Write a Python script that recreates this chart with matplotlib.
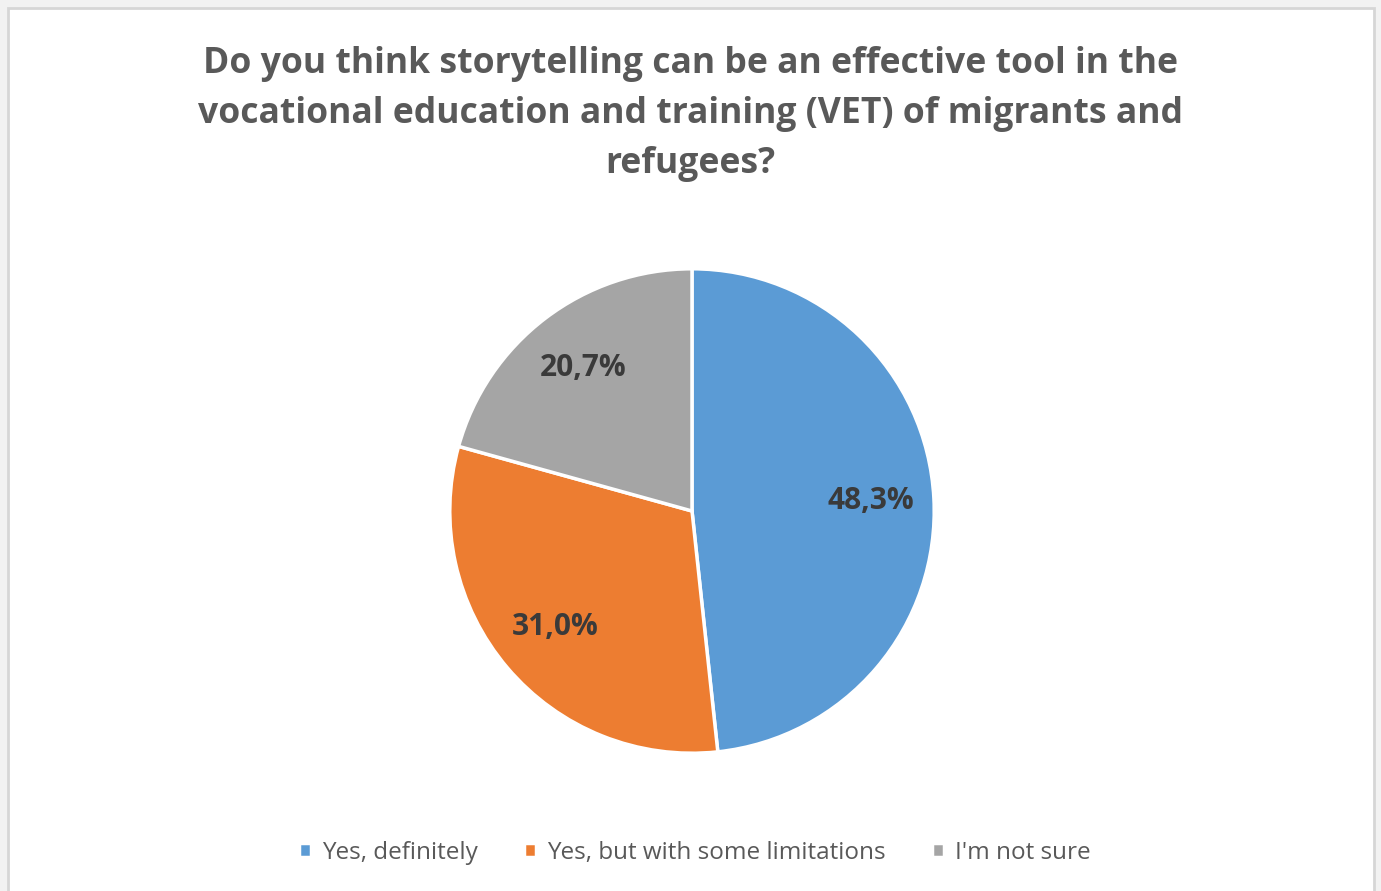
import matplotlib.pyplot as plt
from matplotlib.patches import Rectangle

categories = ['Yes, definitely', 'Yes, but with some limitations', "I'm not sure"]
shares = [48.3, 31.0, 20.7]
colors = ['#5b9bd5', '#ed7d31', '#a5a5a5']

title = ('Do you think storytelling can be an effective tool in the\n'
         'vocational education and training (VET) of migrants and\n'
         'refugees?')

fig = plt.figure(figsize=(13.81, 8.91), dpi=100, facecolor='#f2f2f2')

# white chart area with thin grey frame
fig.patches.append(Rectangle((8 / 1381, -0.05), 1366 / 1381, 1.05 - 8 / 891,
                             transform=fig.transFigure, facecolor='white',
                             edgecolor='#d6d6d6', linewidth=2, zorder=-5))

fig.text(0.5, 1 - 114 / 891, title, ha='center', va='center',
         fontsize=25.6, fontweight='bold', color='#595959',
         family='Open Sans', linespacing=1.5)

ax = fig.add_axes([451 / 1381, (891 - 752) / 891, 482 / 1381, 482 / 891])
ax.set_zorder(2)
wedges, texts, autotexts = ax.pie(
    shares, colors=colors, startangle=90, counterclock=False,
    autopct=lambda p: f'{p:.1f}%'.replace('.', ','), pctdistance=0.74,
    wedgeprops=dict(edgecolor='white', linewidth=2.5),
    textprops=dict(fontsize=21.5, fontweight='bold', color='#3a3a3a',
                   family='Open Sans'))
ax.set_xlim(-0.995, 0.995)
ax.set_ylim(-0.995, 0.995)
ax.set_aspect('equal')

leg = fig.legend(wedges, categories, loc='center',
                 bbox_to_anchor=(0.503, 1 - 853 / 891),
                 ncol=3, frameon=False, handlelength=0.5, handleheight=0.5,
                 handletextpad=0.45, columnspacing=1.9,
                 prop=dict(family='Open Sans', size=17.5), labelcolor='#595959')
leg.set_zorder(3)

plt.savefig('out.png', dpi=100, facecolor=fig.get_facecolor())
